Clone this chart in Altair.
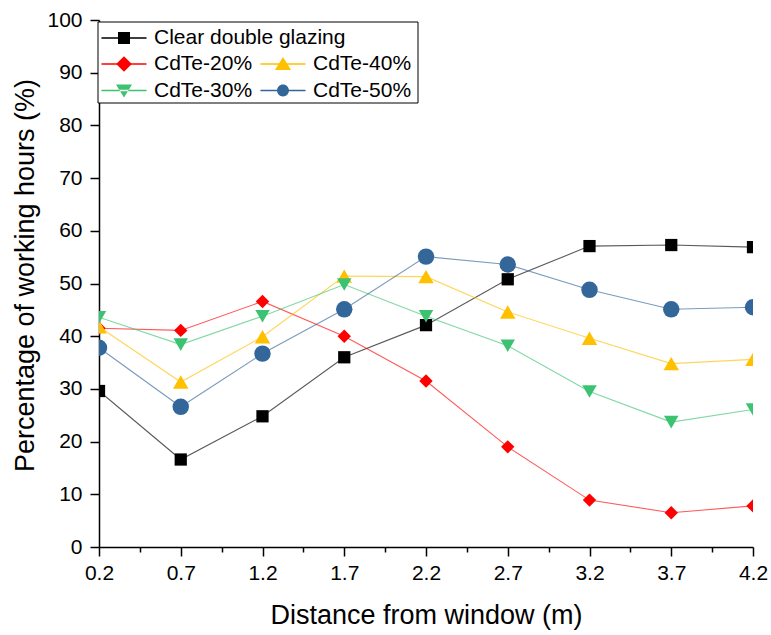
import altair as alt
import pandas as pd

distance = [0.2, 0.7, 1.2, 1.7, 2.2, 2.7, 3.2, 3.7, 4.2]
series_names = ["Clear double glazing", "CdTe-20%", "CdTe-30%", "CdTe-40%", "CdTe-50%"]
clear = [29.6, 16.6, 24.8, 36.0, 42.1, 50.8, 57.1, 57.3, 56.9]
cdte20 = [41.5, 41.1, 46.6, 40.0, 31.5, 19.0, 8.9, 6.5, 7.8]
cdte30 = [43.6, 38.4, 43.8, 49.8, 43.8, 38.2, 29.5, 23.7, 26.1]
cdte40 = [41.8, 31.3, 39.9, 51.4, 51.3, 44.6, 39.6, 34.8, 35.6]
cdte50 = [37.8, 26.6, 36.7, 45.1, 55.1, 53.6, 48.8, 45.1, 45.5]
colors = ["#000000", "#FF0000", "#3CC371", "#FFC000", "#336699"]
shapes = ["square", "diamond", "triangle-down", "triangle-up", "circle"]
sizes = [150, 270, 260, 260, 175]
draw_order = [0, 1, 3, 2, 4]

values = [clear, cdte20, cdte30, cdte40, cdte50]
rows = []
for i, (name, vals) in enumerate(zip(series_names, values)):
    for d, v in zip(distance, vals):
        rows.append({"series": name, "order": draw_order[i], "distance": d, "value": v})
df = pd.DataFrame(rows).sort_values(["order", "distance"]).reset_index(drop=True)

FONT = "Liberation Sans"

line_seg = "M-0.98,-0.03L0.98,-0.03L0.98,0.03L-0.98,0.03Z "
legend_paths = [
    line_seg + "M-0.26,-0.26L0.26,-0.26L0.26,0.26L-0.26,0.26Z",
    line_seg + "M0,-0.34L0.34,0L0,0.34L-0.34,0Z",
    line_seg + "M0,0.3L0.35,-0.26L-0.35,-0.26Z",
    line_seg + "M0,-0.3L0.35,0.26L-0.35,0.26Z",
    line_seg + "M0.26,0A0.26,0.26 0 1,1 -0.26,0A0.26,0.26 0 1,1 0.26,0Z",
]

x_scale = alt.Scale(domain=[0.2, 4.2], nice=False, zero=False)
y_scale = alt.Scale(domain=[0, 100], nice=False, zero=True)

x_ticks = [round(0.2 + 0.25 * i, 2) for i in range(17)]
y_ticks = list(range(0, 101, 5))

x_axis = alt.Axis(
    title="Distance from window (m)",
    values=x_ticks,
    format=".1f",
    labelExpr="round(datum.value*100) % 50 == 20 ? datum.label : ''",
    tickSize={"condition": {"test": "round(datum.value*100) % 50 == 20", "value": 9}, "value": 5},
    labelOverlap=False,
    labelFlush=False,
    labelFont=FONT, labelFontSize=21, labelColor="black", labelPadding=6,
    titleFont=FONT, titleFontSize=27, titleFontWeight="normal", titleColor="black", titlePadding=19,
    domainColor="black", domainWidth=1.5, tickColor="black", tickWidth=1.5, grid=False,
)
y_axis = alt.Axis(
    title="Percentage of working hours (%)",
    values=y_ticks,
    labelExpr="datum.value % 10 == 0 ? datum.label : ''",
    tickSize={"condition": {"test": "datum.value % 10 == 0", "value": 9}, "value": 5},
    labelOverlap=False,
    labelFlush=False,
    labelFont=FONT, labelFontSize=21, labelColor="black", labelPadding=8,
    titleFont=FONT, titleFontSize=27, titleFontWeight="normal", titleColor="black", titlePadding=7,
    titleY=255,
    domainColor="black", domainWidth=1.5, tickColor="black", tickWidth=1.5, grid=False,
)

base = alt.Chart(df)

lines = base.mark_line(strokeWidth=1.1, opacity=0.65, clip=True).encode(
    x=alt.X("distance:Q", scale=x_scale, axis=x_axis),
    y=alt.Y("value:Q", scale=y_scale, axis=y_axis),
    color=alt.Color("series:N", scale=alt.Scale(domain=series_names, range=colors), legend=None),
    detail="series:N",
    order="distance:Q",
)

points = base.mark_point(filled=True, opacity=1, clip=True).encode(
    x=alt.X("distance:Q", scale=x_scale),
    y=alt.Y("value:Q", scale=y_scale),
    color=alt.Color("series:N", scale=alt.Scale(domain=series_names, range=colors), legend=None),
    shape=alt.Shape("series:N", scale=alt.Scale(domain=series_names, range=shapes), legend=None),
    size=alt.Size("series:N", scale=alt.Scale(domain=series_names, range=sizes), legend=None),
    order="order:Q",
)

legend_box = alt.Chart(alt.Data(values=[{"k": 1}])).mark_rect(
    fill="white", stroke="black", strokeWidth=1
).encode(
    x=alt.value(-1), x2=alt.value(319), y=alt.value(2), y2=alt.value(83)
)


def legend_layer(names, cols, paths, lx, ly, columns):
    common = dict(
        orient="none", legendX=lx, legendY=ly, title=None, values=names,
        labelFont=FONT, labelFontSize=21, labelColor="black", labelLimit=400,
        symbolSize=2116, symbolStrokeWidth=0, clipHeight=22, labelOffset=7,
        symbolOffset=0, padding=0, rowPadding=4.5, columnPadding=7,
    )
    if columns:
        common["columns"] = columns
    return base.mark_point(filled=True, opacity=1).transform_filter("false").encode(
        x=alt.X("distance:Q", scale=x_scale),
        y=alt.Y("value:Q", scale=y_scale),
        color=alt.Color("series:N", scale=alt.Scale(domain=names, range=cols),
                        legend=alt.Legend(**common)),
        shape=alt.Shape("series:N", scale=alt.Scale(domain=names, range=paths),
                        legend=alt.Legend(**common)),
    )


legA = legend_layer(series_names[:1], colors[:1], legend_paths[:1], 2, 7, None)
legB = legend_layer(series_names[1:], colors[1:], legend_paths[1:], 2, 33, 2)

chart = alt.layer(legend_box, lines, points, legA, legB).resolve_scale(
    color="independent", shape="independent", size="independent"
).properties(
    width=654, height=527,
    autosize=alt.AutoSizeParams(type="none"),
    padding={"left": 99, "top": 20, "right": 18, "bottom": 88},
    background="white",
).configure_view(stroke=None)

chart.save("out.html", embed_options={"renderer": "svg", "actions": False})
